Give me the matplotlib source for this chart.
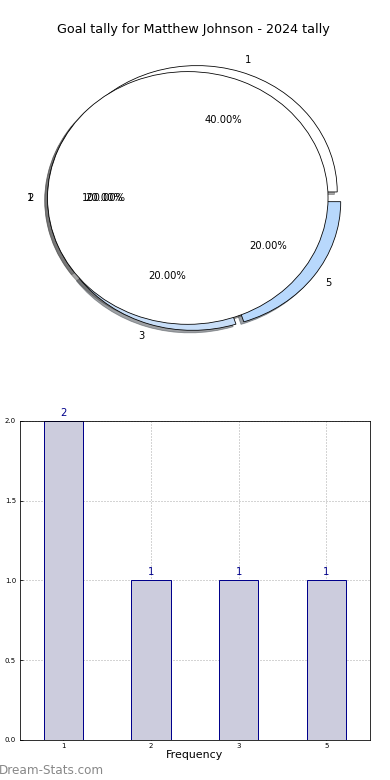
import matplotlib
matplotlib.use("Agg")
import matplotlib.pyplot as plt

# data
goals = ["1", "2", "3", "5"]
counts = [2, 1, 1, 1]
pie_colors = ["white", "white", "#c8def8", "#b8d8fc"]
overlay_labels = ["1"]
overlay_values = [1]
title = "Goal tally for Matthew Johnson - 2024 tally"

fig = plt.figure(figsize=(390 / 72, 780 / 72), dpi=72)
ax_pie = fig.add_axes([0.05, 0.5437, 0.899, 0.405])
ax_bar = fig.add_axes([0.05, 0.0513, 0.899, 0.409])

# pie (exploded, with a single-wedge pie drawn on top of it)
explode = [0.05] * len(counts)
ax_pie.pie(counts, labels=goals, colors=pie_colors, explode=explode,
           autopct="%.2f%%", shadow=True,
           wedgeprops=dict(edgecolor="black", linewidth=0.8),
           textprops=dict(fontsize=10))
ax_pie.pie(overlay_values, labels=overlay_labels, colors=["white"],
           explode=[0.05], autopct="%.2f%%", shadow=True,
           wedgeprops=dict(edgecolor="black", linewidth=0.8),
           textprops=dict(fontsize=10))
ax_pie.set_aspect("auto")
ax_pie.set_xlim(-1.25, 1.25)
ax_pie.set_ylim(-1.25, 1.25)
fig.text(0.495, 1 - 30 / 780, title, fontsize=12.8, ha="center", va="center")

# bars
xpos = list(range(len(goals)))
ax_bar.bar(xpos, counts, width=0.45, color="#ccccdd",
           edgecolor="#00008b", linewidth=1, zorder=2)
for x, c in zip(xpos, counts):
    ax_bar.text(x, c + 0.02, str(c), ha="center", va="bottom",
                color="#00008b", fontsize=10)
ax_bar.set_xticks(xpos)
ax_bar.set_xticklabels(goals)
ax_bar.set_xlim(-0.5, len(goals) - 0.5)
ax_bar.set_ylim(0, 2.0)
ax_bar.set_yticks([0.0, 0.5, 1.0, 1.5, 2.0])
ax_bar.set_yticklabels(["0.0", "0.5", "1.0", "1.5", "2.0"])
ax_bar.tick_params(labelsize=7, direction="in", length=3)
ax_bar.grid(True, linestyle=(0, (1, 2)), color="#aaaaaa", linewidth=1, zorder=0)
ax_bar.set_axisbelow(True)
ax_bar.set_xlabel("Frequency", fontsize=11, labelpad=1)

fig.text(-0.003, 1 - 770 / 780, "Dream-Stats.com", fontsize=12, color="#888888",
         ha="left", va="center")

fig.savefig("out.png", dpi=72)
